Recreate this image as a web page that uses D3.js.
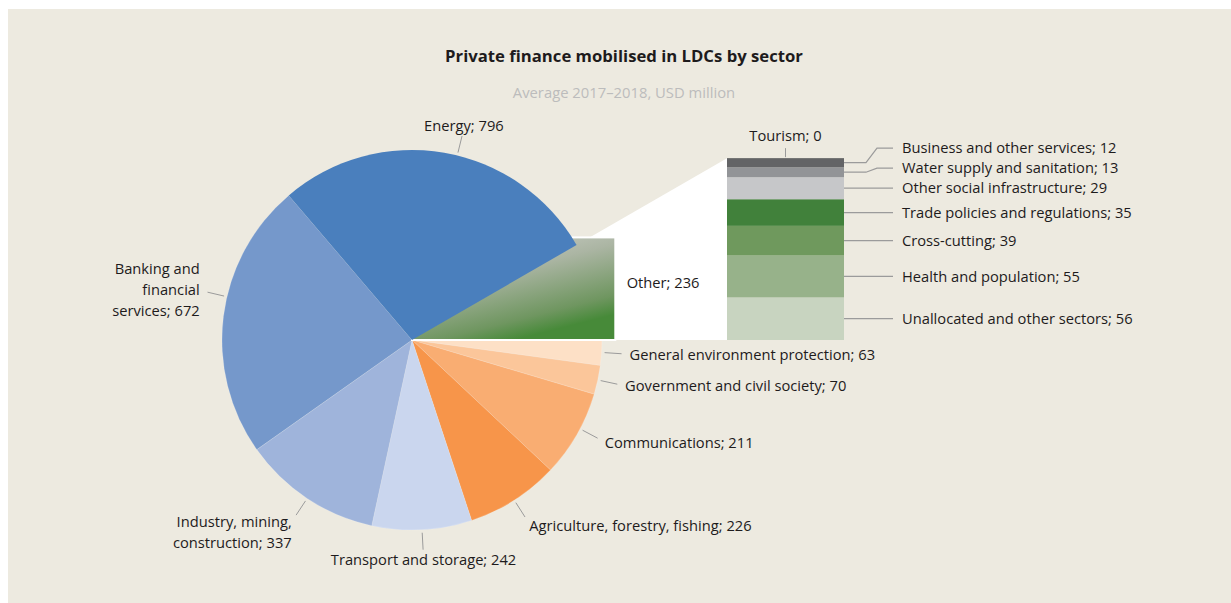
<!DOCTYPE html>
<html>
<head>
<meta charset="utf-8">
<script src="https://cdn.jsdelivr.net/npm/d3@7"></script>
<style>
  body { margin: 0; background: #fff; }
  text { font-family: "Open Sans", Lato, sans-serif; fill: #1e1b1c; }
</style>
</head>
<body>
<div class="chart"></div>
<script>
// main pie, clockwise from the "Other" slice
const sectors = ["Other", "General environment protection", "Government and civil society",
  "Communications", "Agriculture, forestry, fishing", "Transport and storage",
  "Industry, mining, construction", "Banking and financial services", "Energy"];
const sectorValues = [236, 63, 70, 211, 226, 242, 337, 672, 796];
const sectorLabels = [["Other; 236"], ["General environment protection; 63"], ["Government and civil society; 70"],
  ["Communications; 211"], ["Agriculture, forestry, fishing; 226"], ["Transport and storage; 242"],
  ["Industry, mining,", "construction; 337"], ["Banking and", "financial", "services; 672"], ["Energy; 796"]];
const sectorColors = ["none", "#fde0c6", "#fbc69a", "#f9ad72", "#f7954a", "#cad6ee", "#9fb4db", "#7598cb", "#4a7fbd"];

// breakdown of "Other", top to bottom
const otherCats = ["Tourism", "Business and other services", "Water supply and sanitation",
  "Other social infrastructure", "Trade policies and regulations", "Cross-cutting",
  "Health and population", "Unallocated and other sectors"];
const otherValues = [0, 12, 13, 29, 35, 39, 55, 56];
const otherColors = ["#4d4d4f", "#636466", "#929497", "#c6c7c9", "#41813b", "#6f995d", "#97b28a", "#c8d4c0"];

const width = 1231;
const height = 603;
const cx = 412, cy = 340, r = 190;
const startDeg = 60;
const barX = 727, barW = 117;
const fs = 14.7;
// small angle tweaks for a few pie labels (degrees)
const labelTweak = { "Energy": 4, "Banking and financial services": 6, "Communications": -2 };

const svg = d3.select(".chart").append("svg")
  .attr("width", width)
  .attr("height", height);

svg.append("rect")
  .attr("x", 8).attr("y", 9)
  .attr("width", width - 8).attr("height", height - 9)
  .attr("fill", "#edeae0");

const defs = svg.append("defs");
const grad = defs.append("linearGradient")
  .attr("id", "otherGrad")
  .attr("x1", 0).attr("y1", 0).attr("x2", 0.5).attr("y2", 1);
grad.append("stop").attr("offset", "0%").attr("stop-color", "#d6d7d3");
grad.append("stop").attr("offset", "45%").attr("stop-color", "#abb5a3");
grad.append("stop").attr("offset", "85%").attr("stop-color", "#6f9660");
grad.append("stop").attr("offset", "100%").attr("stop-color", "#478a39");

svg.append("text")
  .attr("x", 624).attr("y", 62)
  .attr("text-anchor", "middle")
  .attr("font-size", 16.7)
  .attr("font-weight", 700)
  .text("Private finance mobilised in LDCs by sector");

svg.append("text")
  .attr("x", 624).attr("y", 98)
  .attr("text-anchor", "middle")
  .attr("font-size", 14.8)
  .style("fill", "#bcbcbc")
  .text("Average 2017\u20132018, USD million");

const data = sectors.map((s, i) => ({ name: s, value: sectorValues[i], label: sectorLabels[i], color: sectorColors[i] }));

const pie = d3.pie()
  .value((d) => d.value)
  .sort(null)
  .startAngle(startDeg * Math.PI / 180)
  .endAngle((startDeg + 360) * Math.PI / 180);
const arcs = pie(data);
const arc = d3.arc().innerRadius(0).outerRadius(r);

// white "zoom" wedge from the pie to the bar
const otherArc = arcs[0];
const tanA = Math.tan(Math.PI / 2 - otherArc.startAngle);
const barTop = cy - (barX - cx) * tanA;
svg.append("path")
  .attr("d", d3.line()([[cx, cy], [barX, barTop], [barX, cy], [cx, cy]]))
  .attr("fill", "#fff");

const g = svg.append("g").attr("transform", `translate(${cx},${cy})`);

// slices other than Other and Energy
g.selectAll("path.slice")
  .data(arcs.filter((d) => d.data.name !== "Other" && d.data.name !== "Energy"))
  .enter()
  .append("path")
  .attr("class", "slice")
  .attr("d", arc)
  .attr("fill", (d) => d.data.color)
  .attr("stroke", "rgba(255,255,255,0.3)")
  .attr("stroke-width", 0.5);

// Other as a box
g.append("rect")
  .attr("x", 0).attr("y", -r * 0.54)
  .attr("width", r * 1.07).attr("height", r * 0.54)
  .attr("fill", "url(#otherGrad)")
  .attr("stroke", "#fff")
  .attr("stroke-width", 2);

g.selectAll("path.energy")
  .data(arcs.filter((d) => d.data.name === "Energy"))
  .enter()
  .append("path")
  .attr("class", "energy")
  .attr("d", arc)
  .attr("fill", (d) => d.data.color);

g.append("text")
  .attr("x", r * 1.13).attr("y", -r * 0.3)
  .attr("dy", "0.35em")
  .attr("font-size", fs)
  .text(otherArc.data.label[0]);

// pie labels with leaders
const lineH = 21;
arcs.filter((d) => d.data.name !== "Other").forEach((d) => {
  const a = (d.startAngle + d.endAngle) / 2 + (labelTweak[d.data.name] || 0) * Math.PI / 180;
  const s = Math.sin(a), c = Math.cos(a);
  g.append("line")
    .attr("x1", (r + 3) * s).attr("y1", -(r + 3) * c)
    .attr("x2", (r + 20) * s).attr("y2", -(r + 20) * c)
    .attr("stroke", "#9b9b9b")
    .attr("stroke-width", 1);
  const px = (r + 20) * s + s * 8;
  let py = -(r + 20) * c - c * 10;
  const n = d.data.label.length;
  py += Math.max(0, -c) * (n - 1) * lineH / 2;
  const anchor = s > 0.3 ? "start" : s < -0.3 ? "end" : "middle";
  const t = g.append("text")
    .attr("x", px)
    .attr("y", py - (n - 1) * lineH / 2)
    .attr("text-anchor", anchor)
    .attr("font-size", fs);
  d.data.label.forEach((l, i) => {
    t.append("tspan")
      .attr("x", px)
      .attr("dy", i === 0 ? "0.35em" : lineH)
      .text(l);
  });
});

// stacked bar for Other
const y = d3.scaleLinear()
  .domain([0, d3.sum(otherValues)])
  .range([cy, barTop]);

const segs = [];
let acc = 0;
for (let i = otherCats.length - 1; i >= 0; i--) {
  segs.push({ name: otherCats[i], value: otherValues[i], color: otherColors[i], y0: acc, y1: acc + otherValues[i] });
  acc += otherValues[i];
}

svg.selectAll("rect.seg")
  .data(segs)
  .enter()
  .append("rect")
  .attr("class", "seg")
  .attr("x", barX)
  .attr("y", (d) => y(d.y1))
  .attr("width", barW)
  .attr("height", (d) => y(d.y0) - y(d.y1))
  .attr("fill", (d) => d.color);

// right labels, bottom up with a minimum gap
const minGap = 20;
let prev = Infinity;
segs.filter((d) => d.value > 0).forEach((d) => {
  const mid = (y(d.y0) + y(d.y1)) / 2;
  const ly = Math.min(mid, prev - minGap);
  prev = ly;
  svg.append("path")
    .attr("d", d3.line()([[barX + barW, mid], [barX + barW + 22, mid], [barX + barW + 33, ly], [barX + barW + 49, ly]]))
    .attr("fill", "none")
    .attr("stroke", "#9b9b9b")
    .attr("stroke-width", 1.2);
  svg.append("text")
    .attr("x", barX + barW + 58)
    .attr("y", ly)
    .attr("dy", "0.35em")
    .attr("font-size", fs)
    .text(d.name + "; " + d.value);
});

// zero-value category above the bar
segs.filter((d) => d.value === 0).forEach((d) => {
  const top = y(d.y1);
  svg.append("line")
    .attr("x1", barX + barW / 2).attr("x2", barX + barW / 2)
    .attr("y1", top - 1).attr("y2", top - 10)
    .attr("stroke", "#9b9b9b");
  svg.append("text")
    .attr("x", barX + barW / 2)
    .attr("y", top - 22)
    .attr("dy", "0.35em")
    .attr("text-anchor", "middle")
    .attr("font-size", fs)
    .text(d.name + "; " + d.value);
});
</script>
</body>
</html>
